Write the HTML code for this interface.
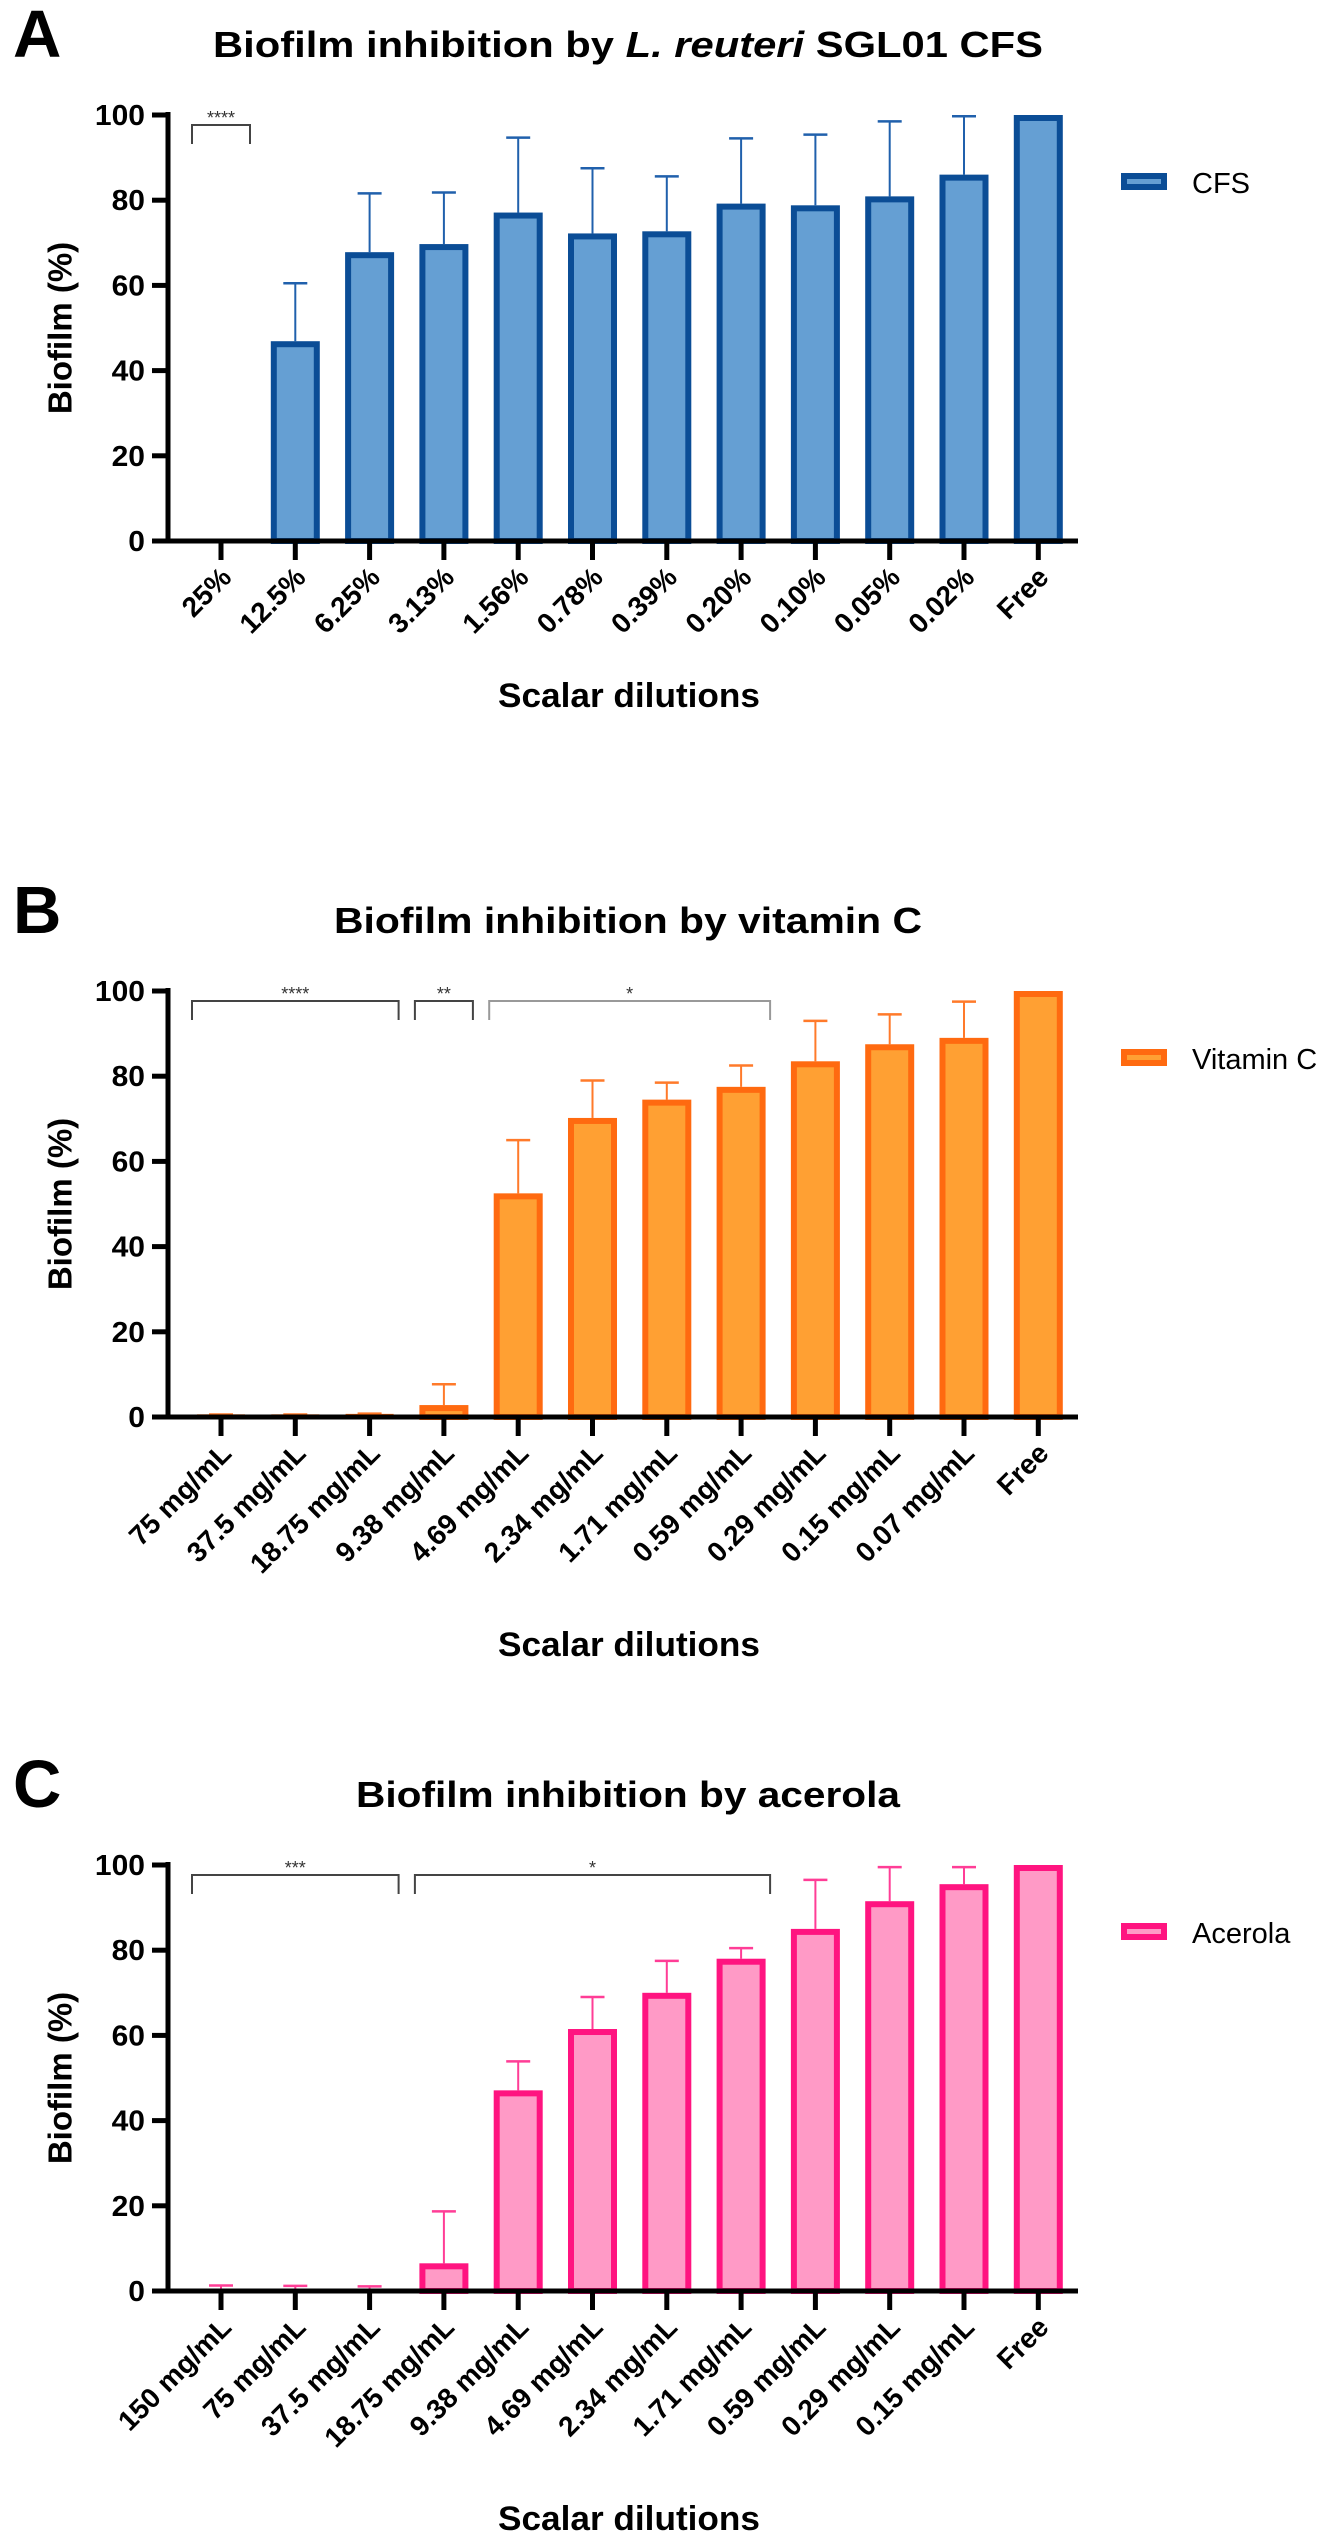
<!DOCTYPE html>
<html><head><meta charset="utf-8"><style>
html,body{margin:0;padding:0;background:#fff;}
svg{display:block;font-family:"Liberation Sans",Arial,sans-serif;}
</style></head><body>
<svg id="fig" width="1325" height="2535" viewBox="0 0 1325 2535"></svg>
<script>
const catsA = ["25%","12.5%","6.25%","3.13%","1.56%","0.78%","0.39%","0.20%","0.10%","0.05%","0.02%","Free"];
const valsA = [0,46.9,67.8,69.7,77.1,72.2,72.7,79.2,78.8,80.9,86,100];
const errA  = [0,60.5,81.6,81.8,94.7,87.5,85.6,94.5,95.4,98.5,99.7,100];
const catsB = ["75 mg/mL","37.5 mg/mL","18.75 mg/mL","9.38 mg/mL","4.69 mg/mL","2.34 mg/mL","1.71 mg/mL","0.59 mg/mL","0.29 mg/mL","0.15 mg/mL","0.07 mg/mL","Free"];
const valsB = [0.4,0.4,0.5,2.8,52.5,70.2,74.5,77.5,83.5,87.5,89,100];
const errB  = [0.6,0.6,0.8,7.7,65,79,78.5,82.5,93,94.5,97.5,100];
const catsC = ["150 mg/mL","75 mg/mL","37.5 mg/mL","18.75 mg/mL","9.38 mg/mL","4.69 mg/mL","2.34 mg/mL","1.71 mg/mL","0.59 mg/mL","0.29 mg/mL","0.15 mg/mL","Free"];
const valsC = [0.2,0.2,0.2,6.5,47.1,61.5,70,78,85,91.5,95.5,100];
const errC  = [1.3,1.2,1.1,18.7,53.9,69,77.5,80.5,96.5,99.5,99.5,100];
const yTicks = [0,20,40,60,80,100];
const sigA = [{from:0,to:0,label:"****"}];
const sigB = [{from:0,to:2,label:"****"},{from:3,to:3,label:"**"},{from:4,to:7,label:"*"}];
const sigC = [{from:0,to:2,label:"***"},{from:3,to:7,label:"*"}];

const NS="http://www.w3.org/2000/svg";
const svg=document.getElementById('fig');
function mk(tag,attrs,parent,txt){const e=document.createElementNS(NS,tag);for(const k in attrs)e.setAttribute(k,attrs[k]);if(txt!==undefined)e.textContent=txt;(parent||svg).appendChild(e);return e;}

function panel(p){
  const off=p.off;
  const y0=541+off, y100=115+off, ppu=(y0-y100)/100;
  const Y=v=>y0-v*ppu;
  const X=i=>221+74.3*i;
  const g=mk('g',{});
  
  
  let t=mk('text',{x:13,y:57+off,'font-size':67,'font-weight':'bold'},g,p.letter);
  
  t=mk('text',{x:628,y:57+off,'font-size':36,'font-weight':'bold','text-anchor':'middle',textLength:p.titleLen,lengthAdjust:'spacingAndGlyphs'},g);
  
  p.title.forEach(s=>{const ts=mk('tspan',s.it?{'font-style':'italic'}:{},t,s.t);});
  // y axis title
  t=mk('text',{x:0,y:0,'font-size':33,'font-weight':'bold','text-anchor':'middle','dominant-baseline':'central',transform:`translate(60,${(y0+y100)/2}) rotate(-90)`},g,'Biofilm (%)');
  
  // bars
  p.vals.forEach((v,i)=>{
    const cx=X(i);
    const top=Y(v);
    const h=y0-top-3;
    if(p.err[i]>v){
      const l=mk('line',{x1:cx,x2:cx,y1:top,y2:Y(p.err[i]),stroke:p.ebar,'stroke-width':2},g);
      
      const c=mk('line',{x1:cx-12,x2:cx+12,y1:Y(p.err[i]),y2:Y(p.err[i]),stroke:p.ebar,'stroke-width':2.5},g);
      
    }
    if(v>0){
      let r;
      if(h>3){ r=mk('rect',{x:cx-21.5,y:top+3,width:43,height:h,fill:p.fill,stroke:p.stroke,'stroke-width':6},g); }
      else { r=mk('rect',{x:cx-24,y:top-1,width:48,height:Math.max(2,y0-top),fill:p.stroke},g); }
      
    }
  });
  // axes
  let a=mk('line',{x1:168,x2:168,y1:y100-3,y2:y0+2.5,stroke:'#000','stroke-width':5},g);
  
  a=mk('line',{x1:152,x2:1078,y1:y0,y2:y0,stroke:'#000','stroke-width':5},g);
  
  yTicks.forEach(v=>{
    const tk=mk('line',{x1:152,x2:168,y1:Y(v),y2:Y(v),stroke:'#000','stroke-width':5},g);
    
    const s=String(v);
    const lb=mk('text',{x:145,y:Y(v)+10,'font-size':29,'font-weight':'bold','text-anchor':'end',textLength:s.length*16.7,lengthAdjust:'spacingAndGlyphs'},g,s);
    
  });
  p.cats.forEach((c,i)=>{
    const cx=X(i);
    const tk=mk('line',{x1:cx,x2:cx,y1:y0,y2:y0+19,stroke:'#000','stroke-width':5},g);
    
    const lb=mk('text',{x:0,y:0,'font-size':28,'font-weight':'bold','text-anchor':'end',transform:`translate(${cx+12},${y0+38}) rotate(-45)`},g,c);
    
  });
  t=mk('text',{x:629,y:p.xtitleY+12,'font-size':34,'font-weight':'bold','text-anchor':'middle',textLength:262,lengthAdjust:'spacingAndGlyphs'},g,'Scalar dilutions');
  
  // significance brackets
  p.sig.forEach(s=>{
    const x1=X(s.from)-29, x2=X(s.to)+29, yt=y100+10, yl=y100+29;
    const col=s.label==='*'&&p.letter==='B'?'#999':'#444';
    const br=mk('path',{d:`M${x1},${yl} V${yt} H${x2} V${yl}`,fill:'none',stroke:col,'stroke-width':2},g);
    
    const st=mk('text',{x:(x1+x2)/2,y:yt-1,'font-size':18,fill:'#333','text-anchor':'middle'},g,s.label);
    
  });
  // legend
  const lg=mk('g',{},g);
  
  mk('rect',{x:1124,y:y100+61,width:40,height:11,fill:p.fill,stroke:p.stroke,'stroke-width':6},lg);
  mk('text',{x:1192,y:y100+78,'font-size':29},lg,p.legend);
}

panel({name:'cfs',letter:'A',off:0,cats:catsA,vals:valsA,err:errA,sig:sigA,fill:'#659fd3',stroke:'#0b4d96',ebar:'#2060ac',
  title:[{t:'Biofilm inhibition by '},{t:'L. reuteri',it:true},{t:'  SGL01 CFS'}],titleLen:830,legend:'CFS',xtitleY:695});
panel({name:'vitamin-c',letter:'B',off:876,cats:catsB,vals:valsB,err:errB,sig:sigB,fill:'#ffa033',stroke:'#ff6a10',ebar:'#ff7a2a',
  title:[{t:'Biofilm inhibition by vitamin C'}],titleLen:588,legend:'Vitamin C',xtitleY:1644});
panel({name:'acerola',letter:'C',off:1750,cats:catsC,vals:valsC,err:errC,sig:sigC,fill:'#ff9ac6',stroke:'#ff1480',ebar:'#ff3d96',
  title:[{t:'Biofilm inhibition by acerola'}],titleLen:544,legend:'Acerola',xtitleY:2518});
</script>
</body></html>
